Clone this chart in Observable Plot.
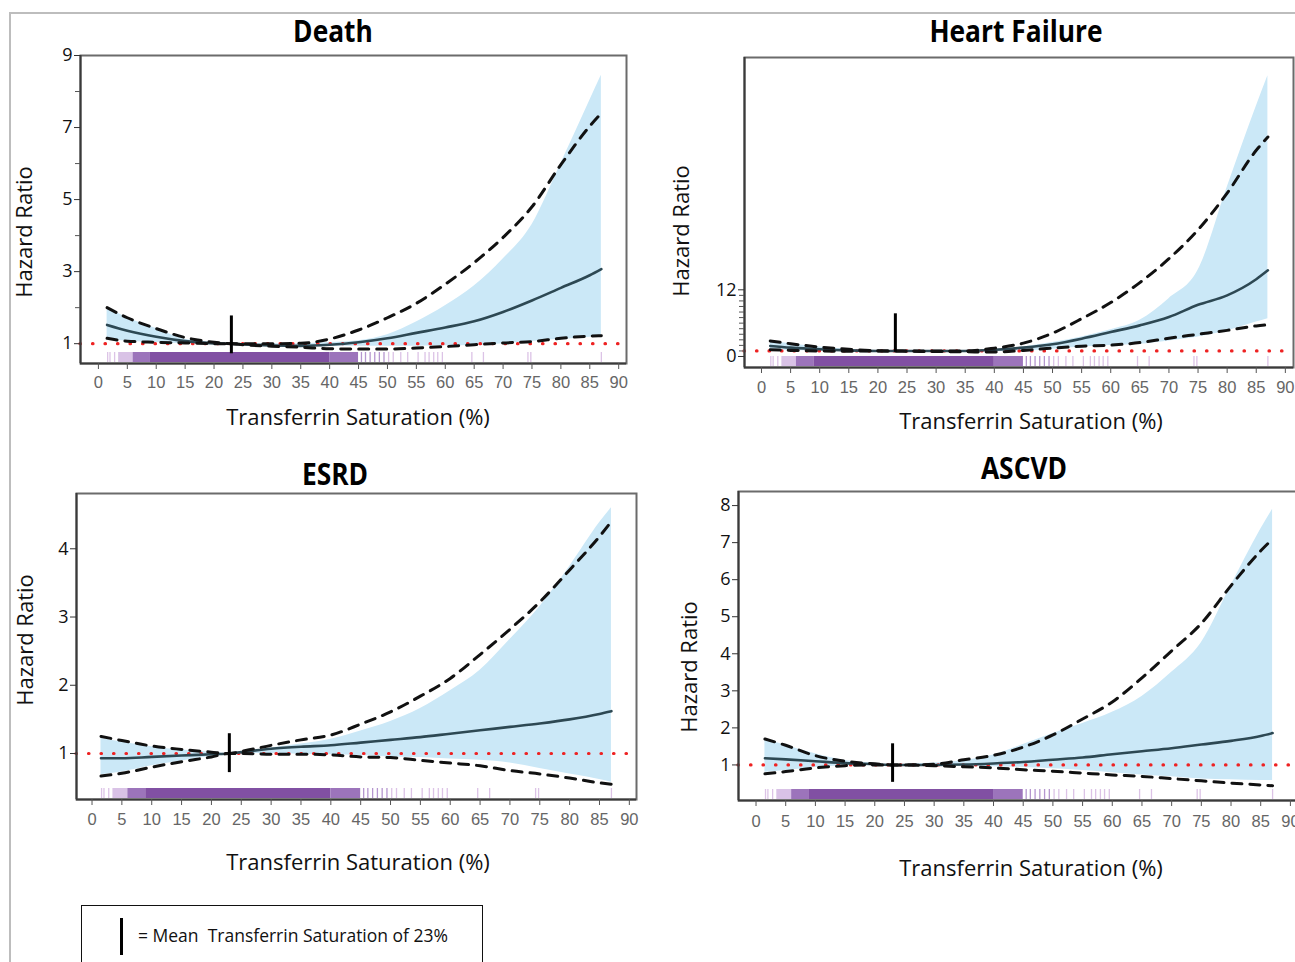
<!DOCTYPE html>
<html>
<head>
<meta charset="utf-8">
<script src="https://cdn.jsdelivr.net/npm/d3@7"></script>
<script src="https://cdn.jsdelivr.net/npm/@observablehq/plot@0.6"></script>
<style>
  html, body { margin:0; padding:0; background:#fff; overflow:hidden; }
  #page { position:relative; width:1295px; height:962px; overflow:hidden; background:#fff; }
  .abs { position:absolute; white-space:pre; }
  .title { font-family:"Open Sans", sans-serif; font-weight:700; font-size:31px; color:#000; transform:translate(-50%,-50%) scaleX(0.85); }
  .ylab { font-family:"Open Sans", sans-serif; font-size:22px; color:#111; transform:translate(-50%,-50%) rotate(-90deg); }
  .xlab { font-family:"Open Sans", sans-serif; font-size:22px; color:#111; transform:translate(-50%,-50%); }
  .panel { position:absolute; }
  .panel svg { overflow:visible; max-width:none !important; }
  .panel g[aria-label="x-axis tick label"] text { fill:#666; font-family:"Liberation Sans", Arial, sans-serif; font-size:16.5px; }
  .panel g[aria-label="y-axis tick label"] text { fill:#111; font-family:"Open Sans", sans-serif; font-size:18px; }
</style>
</head>
<body>
<div id="page"></div>
<script>
// ---------- data ----------
const tsat = [1.5, 5, 10, 15, 20, 23, 25, 30, 35, 40, 45, 50, 55, 60, 65, 70, 75, 80, 85, 87];

const deathHR     = [1.52,1.36,1.19,1.07,1.01,1.00,0.98,0.95,0.94,0.97,1.04,1.15,1.30,1.45,1.62,1.88,2.20,2.55,2.90,3.07];
const deathUpper  = [2.00,1.72,1.42,1.17,1.04,1.00,1.00,1.00,1.01,1.13,1.38,1.72,2.12,2.65,3.25,3.95,4.80,5.97,7.04,7.40];
const deathLower  = [1.15,1.07,1.04,1.02,1.00,1.00,0.97,0.93,0.90,0.86,0.85,0.85,0.88,0.92,0.97,1.02,1.06,1.15,1.21,1.22];
const deathBandHi = [2.00,1.72,1.42,1.12,1.03,1.00,1.00,1.00,1.00,1.03,1.08,1.25,1.60,2.05,2.60,3.35,4.30,6.00,7.75,8.45];
const deathBandLo = [1.12,1.07,1.03,1.00,1.00,1.00,0.99,0.96,0.94,0.93,0.93,0.93,0.93,0.94,0.95,1.00,1.06,1.12,1.18,1.22];

const hfHR     = [1.9,1.6,1.3,1.1,1.0,1.0,1.0,1.0,1.0,1.2,1.6,2.2,3.2,4.4,5.6,7.1,9.3,11.0,13.9,15.5];
const hfUpper  = [2.8,2.3,1.7,1.3,1.05,1.0,1.0,1.0,1.0,1.5,2.4,4.2,6.8,9.7,13.3,17.6,22.8,29.4,37.1,39.5];
const hfLower  = [1.2,1.1,1.0,0.95,1.0,1.0,0.95,0.9,0.85,0.8,1.1,1.5,1.85,2.05,2.5,3.3,4.0,4.7,5.5,5.7];
const hfBandHi = [2.8,2.3,1.7,1.3,1.05,1.0,1.0,1.0,1.0,1.1,1.7,2.5,3.5,4.8,6.5,10.4,15.5,30.4,45.0,50.5];
const hfBandLo = [1.2,1.1,1.0,1.0,1.0,1.0,1.0,0.95,0.9,0.9,1.0,1.3,1.7,2.0,2.2,2.8,3.5,4.6,6.2,6.8];

const esrdHR     = [0.93,0.93,0.95,0.97,0.99,1.00,1.02,1.07,1.10,1.12,1.16,1.20,1.24,1.29,1.34,1.39,1.44,1.50,1.58,1.62];
const esrdUpper  = [1.25,1.19,1.11,1.06,1.02,1.00,1.03,1.12,1.20,1.27,1.43,1.61,1.84,2.10,2.45,2.82,3.22,3.69,4.18,4.40];
const esrdLower  = [0.67,0.71,0.80,0.88,0.95,1.00,1.00,0.99,0.99,0.98,0.95,0.94,0.90,0.86,0.82,0.75,0.70,0.64,0.57,0.55];
const esrdBandHi = [1.22,1.17,1.10,1.05,1.02,1.00,1.02,1.08,1.14,1.21,1.33,1.47,1.66,1.92,2.22,2.67,3.15,3.74,4.38,4.60];
const esrdBandLo = [0.69,0.73,0.82,0.89,0.96,1.00,1.00,1.00,0.99,0.98,0.97,0.95,0.94,0.92,0.90,0.86,0.78,0.70,0.62,0.58];

const ascvdHR     = [1.18,1.15,1.10,1.05,1.02,1.00,1.00,1.00,1.01,1.04,1.08,1.14,1.20,1.29,1.37,1.45,1.55,1.65,1.78,1.86];
const ascvdUpper  = [1.70,1.53,1.25,1.10,1.03,1.00,1.00,1.02,1.14,1.26,1.48,1.81,2.24,2.70,3.35,4.08,4.82,5.84,6.78,7.10];
const ascvdLower  = [0.76,0.82,0.92,0.98,1.00,1.00,1.00,0.98,0.95,0.92,0.87,0.83,0.78,0.73,0.69,0.63,0.57,0.51,0.46,0.44];
const ascvdBandHi = [1.70,1.53,1.30,1.12,1.04,1.00,1.01,1.05,1.12,1.27,1.55,1.85,2.12,2.42,2.85,3.50,4.30,5.84,7.36,7.90];
const ascvdBandLo = [0.80,0.85,0.93,0.98,1.00,1.00,1.00,0.99,0.97,0.95,0.93,0.90,0.85,0.79,0.73,0.68,0.62,0.60,0.58,0.58];

const meanTsat = 23;
const deathMeanSpan = [0.72, 1.77];
const hfMeanSpan = [0.77, 7.68];
const esrdMeanSpan = [0.72, 1.29];
const ascvdMeanSpan = [0.53, 1.57];

// rug of observed transferrin saturation values
const rugSegStart = [3.5, 6, 9, 40];
const rugSegEnd   = [6, 9, 40, 45];
const rugSegLevel = ["low", "mid", "high", "mid"];
const rugTicks = [1.6, 2.0, 2.8, 45.5, 46.2, 47, 47.8, 48.6, 49.4, 50.2, 51, 52.3, 53.5, 55.3, 56.5, 57.2, 58, 58.7, 59.5, 64.6, 66.6, 74.3, 74.8, 87];

const xTicks = [0,5,10,15,20,25,30,35,40,45,50,55,60,65,70,75,80,85,90];
const deathYTicks = [1,3,5,7,9], deathYMinor = [2,4,6,8];
const hfYTicks = [0,12], hfYMinor = [1,2,3,4,5,6,7,8,9,10,11];
const esrdYTicks = [1,2,3,4], esrdYMinor = [];
const ascvdYTicks = [1,2,3,4,5,6,7,8], ascvdYMinor = [];

const titles = ["Death", "Heart Failure", "ESRD", "ASCVD"];
const yTitle = "Hazard Ratio";
const xTitle = "Transferrin Saturation (%)";
const legendText = "= Mean  Transferrin Saturation of 23%";

// ---------- helpers ----------
const rows = (hr, up, lo, bhi, blo) => tsat.map((t, i) => ({t, hr: hr[i], up: up[i], lo: lo[i], bhi: bhi[i], blo: blo[i]}));
const rugSegs = rugSegStart.map((s, i) => ({x1: s, x2: rugSegEnd[i], level: rugSegLevel[i]}));
const rugColor = {low: "#d9c2e6", mid: "#9c74bb", high: "#8150a3"};

const page = document.getElementById("page");
function addDiv(cls, text, x, y, extra) {
  const d = document.createElement("div");
  d.className = "abs " + cls;
  d.textContent = text;
  d.style.left = x + "px"; d.style.top = y + "px";
  if (extra) Object.assign(d.style, extra);
  page.appendChild(d);
  return d;
}

function panel(cfg) {
  const data = cfg.data;
  const fh = cfg.fy1 - cfg.fy0;
  const p = Plot.plot({
    width: cfg.W, height: cfg.H,
    marginLeft: cfg.fx0 - cfg.L, marginRight: cfg.L + cfg.W - cfg.fx1,
    marginTop: cfg.fy0 - cfg.T, marginBottom: cfg.T + cfg.H - cfg.fy1,
    x: {domain: cfg.xdom},
    y: {domain: cfg.ydom},
    style: {background: "transparent", fontFamily: "Open Sans, sans-serif", maxWidth: "none"},
    marks: [
      Plot.areaY(data, {x: "t", y1: "blo", y2: "bhi", fill: "#cbe8f7", curve: "monotone-x"}),
      Plot.rect(rugSegs, {x1: "x1", x2: "x2", fill: d => rugColor[d.level], insetTop: fh - 11, insetBottom: 1}),
      Plot.ruleX(rugTicks, {x: d => d, stroke: d => (d > 3 && d < 50) ? "#b596cf" : "#dcc3e6", strokeWidth: 1.3, insetTop: fh - 11, insetBottom: 1}),
      Plot.ruleY([1], {stroke: "#ee2222", strokeWidth: 3.2, strokeDasharray: "0.5,12", strokeLinecap: "round"}),
      Plot.line(data, {x: "t", y: "hr", stroke: "#2d4853", strokeWidth: 2.6, curve: "monotone-x"}),
      Plot.line(data, {x: "t", y: "up", stroke: "#111", strokeWidth: 3, strokeDasharray: "10,8", curve: "monotone-x"}),
      Plot.line(data, {x: "t", y: "lo", stroke: "#111", strokeWidth: 3, strokeDasharray: "10,8", curve: "monotone-x"}),
      Plot.ruleX([meanTsat], {x: d => d, y1: cfg.meanSpan[0], y2: cfg.meanSpan[1], stroke: "#000", strokeWidth: 3}),
      Plot.frame({stroke: "#6b6b6b", strokeWidth: 2}),
      Plot.ruleX([cfg.xdom[0]], {stroke: "#3a3a3a", strokeWidth: 2}),
      Plot.ruleY([cfg.ydom[0]], {stroke: "#3a3a3a", strokeWidth: 2}),
      Plot.axisX(xTicks, {tickSize: 6, tickPadding: cfg.xPad, stroke: "#555", fill: "#666", label: null, tickFormat: d => String(d)}),
      Plot.axisY(cfg.yTicks, {tickSize: 6, tickPadding: 2, stroke: "#333", fill: "#111", label: null, tickFormat: d => String(d)}),
      Plot.axisY(cfg.yMinor, {tickSize: cfg.minorSize, stroke: "#555", text: null, label: null})
    ]
  });
  const wrap = document.createElement("div");
  wrap.className = "panel";
  wrap.style.left = cfg.L + "px"; wrap.style.top = cfg.T + "px";
  wrap.style.width = cfg.W + "px"; wrap.style.height = cfg.H + "px";
  wrap.appendChild(p);
  page.appendChild(wrap);
}

// page border lines
addDiv("", "", 10, 12, {width: "1290px", height: "2px", background: "#bdbdbd"});
addDiv("", "", 9, 12, {width: "2px", height: "960px", background: "#bdbdbd"});

panel({L: 40, T: 45, W: 600, H: 360, fx0: 80, fx1: 626, fy0: 55, fy1: 363, xPad: 7,
  xdom: [-3.1, 91.35], ydom: [0.45, 9.0], data: rows(deathHR, deathUpper, deathLower, deathBandHi, deathBandLo),
  meanSpan: deathMeanSpan, yTicks: deathYTicks, yMinor: deathYMinor, minorSize: 5});
panel({L: 700, T: 45, W: 600, H: 360, fx0: 744, fx1: 1293, fy0: 57, fy1: 367, xPad: 8,
  xdom: [-2.92, 91.4], ydom: [-1.98, 53.8], data: rows(hfHR, hfUpper, hfLower, hfBandHi, hfBandLo),
  meanSpan: hfMeanSpan, yTicks: hfYTicks, yMinor: hfYMinor, minorSize: 5});
panel({L: 36, T: 480, W: 610, H: 360, fx0: 76, fx1: 636, fy0: 493, fy1: 799, xPad: 8,
  xdom: [-2.6, 91.2], ydom: [0.326, 4.81], data: rows(esrdHR, esrdUpper, esrdLower, esrdBandHi, esrdBandLo),
  meanSpan: esrdMeanSpan, yTicks: esrdYTicks, yMinor: esrdYMinor, minorSize: 5});
panel({L: 700, T: 480, W: 610, H: 360, fx0: 738, fx1: 1300, fy0: 491, fy1: 800, xPad: 9,
  xdom: [-2.95, 91.7], ydom: [0.04, 8.38], data: rows(ascvdHR, ascvdUpper, ascvdLower, ascvdBandHi, ascvdBandLo),
  meanSpan: ascvdMeanSpan, yTicks: ascvdYTicks, yMinor: ascvdYMinor, minorSize: 5});

// titles & axis titles
addDiv("title", titles[0], 333, 30);
addDiv("title", titles[1], 1016, 30);
addDiv("title", titles[2], 335, 473);
addDiv("title", titles[3], 1024, 467);
addDiv("ylab", yTitle, 23, 232);
addDiv("ylab", yTitle, 680, 231);
addDiv("ylab", yTitle, 24, 640);
addDiv("ylab", yTitle, 688, 667);
addDiv("xlab", xTitle, 358, 416);
addDiv("xlab", xTitle, 1031, 420);
addDiv("xlab", xTitle, 358, 861);
addDiv("xlab", xTitle, 1031, 867);

// legend box
addDiv("", "", 81, 905, {width: "402px", height: "70px", border: "1.5px solid #111", boxSizing: "border-box"});
addDiv("", "", 119.5, 918, {width: "3px", height: "37px", background: "#000"});
addDiv("", legendText, 138, 935, {fontFamily: "Open Sans, sans-serif", fontSize: "17.5px", color: "#111", transform: "translateY(-50%)"});
</script>
</body>
</html>
